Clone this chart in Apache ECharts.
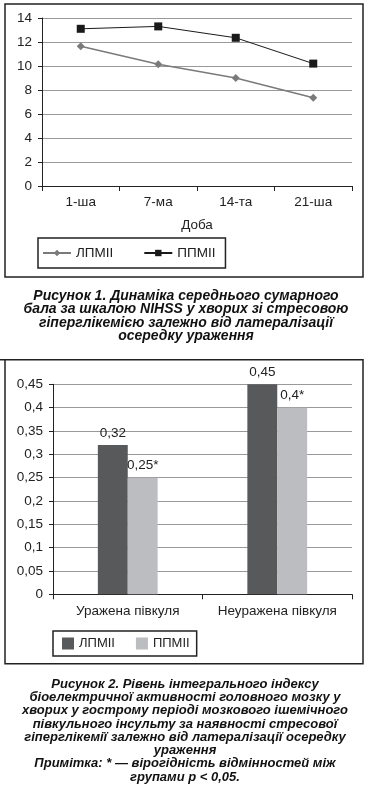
<!DOCTYPE html>
<html>
<head>
<meta charset="utf-8">
<script src="https://cdn.jsdelivr.net/npm/echarts@6/dist/echarts.min.js"></script>
<style>
html,body{margin:0;padding:0;background:#fff;}
#c1{position:absolute;left:0;top:0;width:370px;height:359px;}
#c2{position:absolute;left:0;top:359px;width:370px;height:442px;}
</style>
</head>
<body>
<div id="c1"></div>
<div id="c2"></div>
<script>
// Figure 1 data
const days = ['1-ша', '7-ма', '14-та', '21-ша'];
const lpmii = [11.65, 10.15, 9.0, 7.35];
const ppmii = [13.1, 13.3, 12.35, 10.2];
const seriesNames = ['ЛПМІІ', 'ППМІІ'];
// Figure 2 data
const hemis = ['Уражена півкуля', 'Неуражена півкуля'];
const barL = [0.32, 0.45];
const barP = [0.25, 0.4];
const barPMarks = ['*', '*'];

const FONT = '"Liberation Sans", Arial, sans-serif';
const cap1 = 'Рисунок 1. Динаміка середнього сумарного\nбала за шкалою NIHSS у хворих зі стресовою\nгіперглікемією залежно від латералізації\nосередку ураження';
const cap2 = 'Рисунок 2. Рівень інтегрального індексу\nбіоелектричної активності головного мозку у\nхворих у гострому періоді мозкового ішемічного\nпівкульного інсульту за наявності стресової\nгіперглікемії залежно від латералізації осередку\nураження\nПримітка: * — вірогідність відмінностей між\nгрупами p < 0,05.';

const comma = v => String(v).replace('.', ',');

const c1 = echarts.init(document.getElementById('c1'), null, {renderer: 'canvas'});
c1.setOption({
  animation: false,
  backgroundColor: '#fff',
  textStyle: {fontFamily: FONT},
  grid: {left: 42, right: 18, top: 18, bottom: 173},
  xAxis: {
    type: 'category', data: days, boundaryGap: true,
    axisLine: {lineStyle: {color: '#222', width: 1}},
    axisTick: {show: true, length: 5, interval: 0, lineStyle: {color: '#222'}},
    axisLabel: {color: '#222', fontSize: 13.5, margin: 9, interval: 0, hideOverlap: false, fontFamily: FONT},
    name: 'Доба', nameLocation: 'middle', nameGap: 32,
    nameTextStyle: {color: '#222', fontSize: 13.5, fontFamily: FONT}
  },
  yAxis: {
    type: 'value', min: 0, max: 14, interval: 2,
    axisLine: {show: true, lineStyle: {color: '#222', width: 1}},
    axisTick: {show: true, length: 4, lineStyle: {color: '#222'}},
    axisLabel: {color: '#222', fontSize: 13.5, margin: 10, fontFamily: FONT},
    splitLine: {lineStyle: {color: '#999', width: 1}}
  },
  legend: {
    left: 38, top: 238, orient: 'horizontal',
    data: seriesNames,
    borderColor: '#222', borderWidth: 1.5, borderRadius: 0,
    padding: [8, 10, 8, 4], itemGap: 30, itemWidth: 28, itemHeight: 8,
    textStyle: {color: '#222', fontSize: 13.5, fontFamily: FONT}
  },
  series: [
    {name: seriesNames[0], type: 'line', data: lpmii, symbol: 'diamond', symbolSize: 8,
     lineStyle: {color: '#7a7a7a', width: 1.5}, itemStyle: {color: '#7a7a7a'}},
    {name: seriesNames[1], type: 'line', data: ppmii, symbol: 'rect', symbolSize: 8,
     lineStyle: {color: '#1a1a1a', width: 1}, itemStyle: {color: '#1a1a1a'}}
  ],
  graphic: [
    {type: 'rect', shape: {x: 5, y: 4, width: 358, height: 273}, style: {fill: 'none', stroke: '#222', lineWidth: 1.5}, silent: true},
    {type: 'text', x: 186, y: 289.5, style: {text: cap1, align: 'center', verticalAlign: 'top',
      font: 'italic bold 14px ' + FONT, lineHeight: 13.3, fill: '#111'}}
  ]
});

const c2 = echarts.init(document.getElementById('c2'), null, {renderer: 'canvas'});
c2.setOption({
  animation: false,
  backgroundColor: '#fff',
  textStyle: {fontFamily: FONT},
  grid: {left: 53, right: 18, top: 25.3, bottom: 206.7},
  xAxis: {
    type: 'category', data: hemis,
    axisLine: {lineStyle: {color: '#222', width: 1}},
    axisTick: {show: true, length: 5, interval: 0, lineStyle: {color: '#222'}},
    axisLabel: {color: '#222', fontSize: 13.5, margin: 10, interval: 0, hideOverlap: false, fontFamily: FONT}
  },
  yAxis: {
    type: 'value', min: 0, max: 0.45, interval: 0.05,
    axisLine: {show: true, lineStyle: {color: '#222', width: 1}},
    axisTick: {show: true, length: 4, lineStyle: {color: '#222'}},
    axisLabel: {color: '#222', fontSize: 13.5, margin: 10, fontFamily: FONT,
      formatter: v => comma(Math.round(v * 100) / 100)},
    splitLine: {lineStyle: {color: '#999', width: 1}}
  },
  legend: {
    left: 53, top: 272, orient: 'horizontal',
    data: seriesNames,
    borderColor: '#222', borderWidth: 1.5, borderRadius: 0,
    padding: [6, 7, 6, 9], itemGap: 21, itemWidth: 12, itemHeight: 12, icon: 'rect',
    textStyle: {color: '#222', fontSize: 13, fontFamily: FONT}
  },
  series: [
    {name: seriesNames[0], type: 'bar', data: barL, barGap: '0%', barCategoryGap: '60%',
     itemStyle: {color: '#58595b'},
     label: {show: true, position: 'top', color: '#222', fontSize: 13.5, fontFamily: FONT,
       formatter: p => comma(p.value)}},
    {name: seriesNames[1], type: 'bar', data: barP, barGap: '0%', barCategoryGap: '60%',
     itemStyle: {color: '#bcbdc0'},
     label: {show: true, position: 'top', color: '#222', fontSize: 13.5, fontFamily: FONT,
       formatter: p => comma(p.value) + barPMarks[p.dataIndex]}}
  ],
  graphic: [
    {type: 'rect', shape: {x: 5, y: 0.75, width: 358, height: 304}, style: {fill: 'none', stroke: '#222', lineWidth: 1.5}, silent: true},
    {type: 'line', shape: {x1: 0, y1: 0.75, x2: 5, y2: 0.75}, style: {stroke: '#222', lineWidth: 1.5}, silent: true},
    {type: 'text', x: 185, y: 318.4, style: {text: cap2, align: 'center', verticalAlign: 'top',
      font: 'italic bold 13px ' + FONT, lineHeight: 13.3, fill: '#111'}}
  ]
});
</script>
</body>
</html>
